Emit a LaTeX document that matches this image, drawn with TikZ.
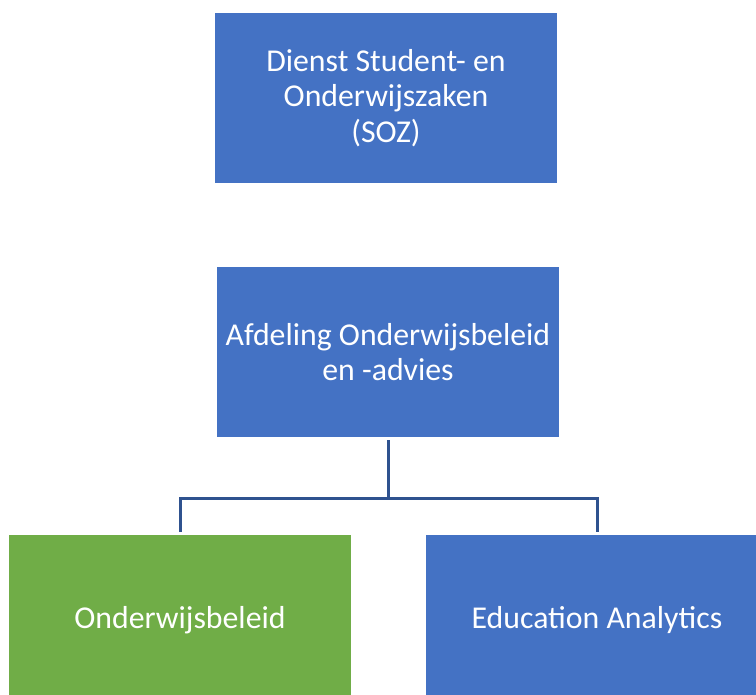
\documentclass[tikz,border=0pt]{standalone}
\usepackage{fontspec}
\setmainfont{Carlito}
\definecolor{boxblue}{HTML}{4472C4}
\definecolor{boxgreen}{HTML}{70AD47}
\definecolor{linkblue}{HTML}{2F528F}

\begin{document}
\begin{tikzpicture}[x=1pt, y=-1pt,
    org box/.style={fill=boxblue, text=white, align=center, minimum width=342pt, minimum height=170pt, inner sep=0pt, font=\fontsize{31.8}{35.5}\selectfont},
    link/.style={draw=linkblue, line width=3pt}]
    \useasboundingbox (0,0) rectangle (756,695);
    \node[org box] (soz) at (386,98) {Dienst Student- en\\Onderwijszaken\\(SOZ)};
    \node[org box] (afd) at (388,352) {Afdeling Onderwijsbeleid\\en -advies};
    \node[org box, fill=boxgreen] (beleid) at (180,620) {Onderwijsbeleid};
    \node[org box] (analytics) at (597,620) {Education Analytics};
    \coordinate (split) at (388,498);
    \draw[link, shorten <=3pt] (afd.south) -- (split);
    \draw[link, shorten <=3pt, shorten >=3pt] (beleid.north) |- (split) -| (analytics.north);
\end{tikzpicture}
\end{document}
